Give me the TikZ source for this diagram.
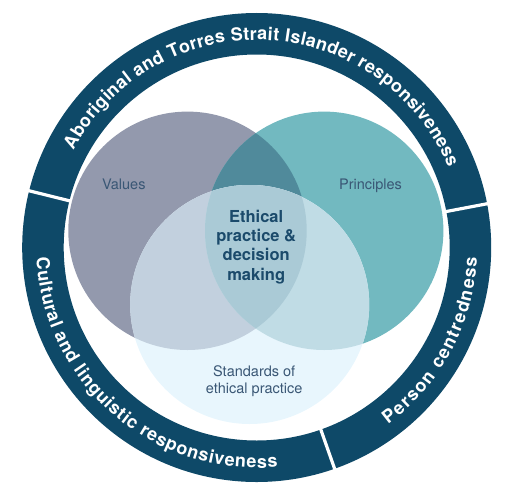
\documentclass[tikz,border=0pt]{standalone}
\usepackage{fontspec}
\setmainfont{TeX Gyre Heros}
\usetikzlibrary{decorations.text}
\definecolor{ringblue}{HTML}{0E4968}
\definecolor{valcol}{HTML}{9399AD}
\definecolor{princol}{HTML}{72B9C0}
\definecolor{vpcol}{HTML}{508A9B}
\definecolor{stdcol}{HTML}{E8F6FD}
\definecolor{svcol}{HTML}{C2D0DE}
\definecolor{spcol}{HTML}{C0DCE5}
\definecolor{allcol}{HTML}{AACAD6}
\definecolor{labcol}{HTML}{3A5775}
\definecolor{maincol}{HTML}{1B4A6B}
\newcommand\myringfont{\bfseries\fontsize{18}{18}\selectfont}
\begin{document}
\begin{tikzpicture}[x=1pt,y=1pt,
  lab/.style={text=labcol, font=\fontsize{14.5}{17.3}\selectfont, align=center, inner sep=0pt},
  mainlab/.style={text=maincol, font=\bfseries\fontsize{16.5}{19.3}\selectfont, align=center, inner sep=0pt},
  ringtext/.style={decorate, decoration={text along path, text color=white, text align={fit to path}, text={|\myringfont|#1}}}]
\useasboundingbox (-256.7,-253.5) rectangle (256.3,247.5);
% ring
\fill[ringblue, even odd rule] (0,0) circle (234.5) (0,0) circle (193);
\foreach \a in {166,10.75,-70.6} \draw[white, line width=3.2pt] (\a:189) -- (\a:239);
% Venn circles
\coordinate (vc) at (-69.2,16.7);
\coordinate (pc) at (67.5,16.7);
\coordinate (sc) at (-7,-57);
\fill[valcol] (vc) circle (119.2);
\fill[princol] (pc) circle (119.2);
\begin{scope}
  \clip (vc) circle (119.2);
  \fill[vpcol] (pc) circle (119.2);
\end{scope}
\fill[stdcol] (sc) circle (119.5);
\begin{scope}
  \clip (sc) circle (119.5);
  \fill[svcol] (vc) circle (119.2);
  \fill[spcol] (pc) circle (119.2);
  \begin{scope}
    \clip (vc) circle (119.2);
    \fill[allcol] (pc) circle (119.2);
  \end{scope}
\end{scope}
% labels
\node[lab, anchor=base] (values) at (-132.9,58.2) {Values};
\node[lab, anchor=base] (principles) at (113.8,58.2) {Principles};
\node[lab] (standards) at (-2.5,-133.5) {Standards of\\ethical practice};
\node[mainlab] (ethical) at (-0.5,0.6) {Ethical\\practice \&\\decision\\making};
% ring texts
\path[ringtext={Aboriginal and Torres Strait Islander responsiveness}] (152:207.5) arc[start angle=152, end angle=22.5, radius=207.5];
\path[ringtext={Cultural and linguistic responsiveness}] (182.6:220.5) arc[start angle=182.6, end angle=275.5, radius=220.5];
\path[ringtext={Person centredness}] (-53.4:220.5) arc[start angle=-53.4, end angle=-2.6, radius=220.5];
\end{tikzpicture}
\end{document}
